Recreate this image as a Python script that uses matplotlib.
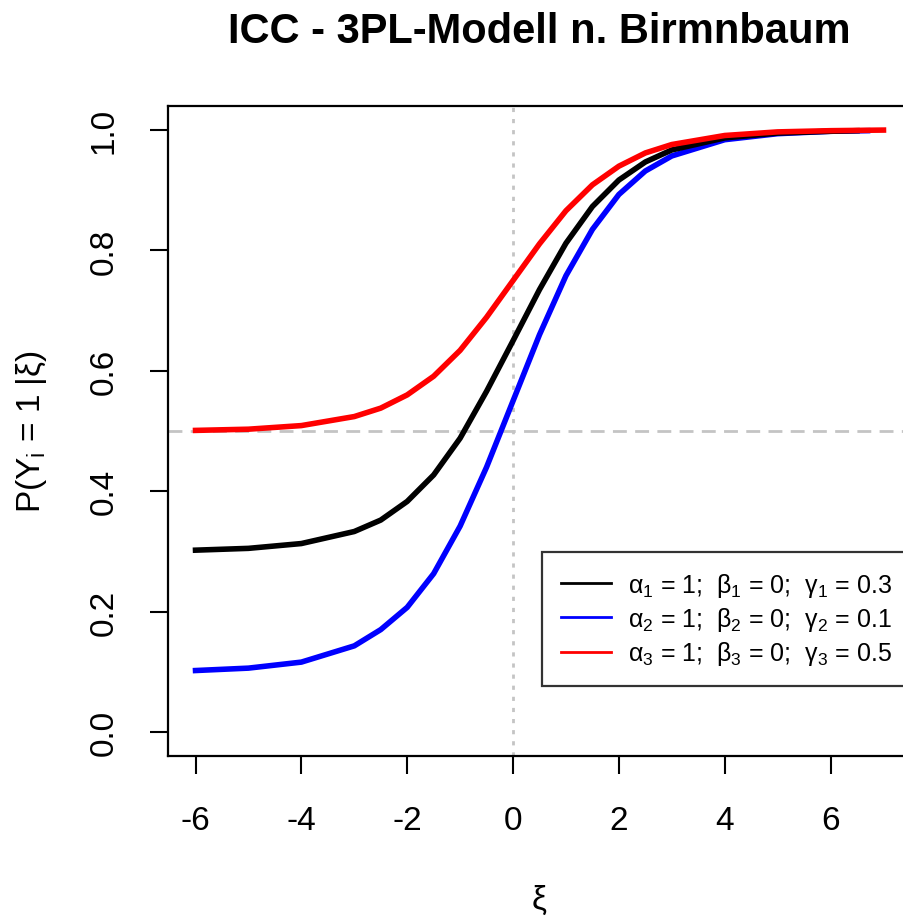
import matplotlib
matplotlib.use("Agg")
import matplotlib.pyplot as plt

# values
xi_black = [-6, -5, -4, -3, -2.5, -2, -1.5, -1, -0.5, 0, 0.5, 1, 1.5, 2, 2.5, 3, 4, 5, 6, 6.5]
p_black = [0.302, 0.305, 0.313, 0.333, 0.352, 0.383, 0.427, 0.488, 0.566, 0.650, 0.735, 0.812,
           0.873, 0.917, 0.947, 0.967, 0.987, 0.995, 0.998, 0.999]

xi_blue = [-6, -5, -4, -3, -2.5, -2, -1.5, -1, -0.5, 0, 0.5, 1, 1.5, 2, 2.5, 3, 4, 5, 6, 6.7]
p_blue = [0.102, 0.106, 0.116, 0.143, 0.170, 0.207, 0.263, 0.342, 0.440, 0.550, 0.660, 0.758,
          0.835, 0.893, 0.932, 0.957, 0.984, 0.994, 0.998, 0.999]

xi_red = [-6, -5, -4, -3, -2.5, -2, -1.5, -1, -0.5, 0, 0.5, 1, 1.5, 2, 2.5, 3, 4, 5, 6, 7]
p_red = [0.501, 0.503, 0.509, 0.524, 0.538, 0.560, 0.591, 0.634, 0.689, 0.750, 0.811, 0.866,
         0.909, 0.940, 0.962, 0.976, 0.991, 0.997, 0.999, 1.000]

labels = [
    "α$_1$ = 1;  β$_1$ = 0;  γ$_1$ = 0.3",
    "α$_2$ = 1;  β$_2$ = 0;  γ$_2$ = 0.1",
    "α$_3$ = 1;  β$_3$ = 0;  γ$_3$ = 0.5",
]
colors = ["black", "blue", "red"]
x_ticks = [-6, -4, -2, 0, 2, 4, 6]
y_ticks = [0.0, 0.2, 0.4, 0.6, 0.8, 1.0]

plt.rcParams["font.family"] = ["Liberation Sans", "DejaVu Sans"]
plt.rcParams["mathtext.fontset"] = "custom"
plt.rcParams["mathtext.rm"] = "Liberation Sans"
plt.rcParams["mathtext.it"] = "Liberation Sans"

fig = plt.figure(figsize=(9.04, 9.2), dpi=100)
ax = fig.add_axes([168 / 904, 1 - 757 / 920, (911 - 168) / 904, (757 - 107) / 920])

ax.axvline(0, color="#c4c4c4", lw=2, linestyle=(0, (1.5, 2.5)), zorder=1)
ax.axhline(0.5, color="#c4c4c4", lw=2, linestyle=(0, (5, 3)), zorder=1)

ax.plot(xi_black, p_black, color=colors[0], lw=4, label=labels[0], zorder=3)
ax.plot(xi_blue, p_blue, color=colors[1], lw=4, label=labels[1], zorder=2)
ax.plot(xi_red, p_red, color=colors[2], lw=4, label=labels[2], zorder=4)

ax.set_xlim(-6.52, 7.52)
ax.set_ylim(-0.04, 1.04)
ax.set_xticks(x_ticks)
ax.set_xticklabels([str(t) for t in x_ticks])
ax.set_yticks(y_ticks)
ax.set_yticklabels(["%.1f" % t for t in y_ticks], rotation=90, va="center")
ax.tick_params(direction="out", length=13, width=1.5, labelsize=24, pad=22)
for s in ax.spines.values():
    s.set_linewidth(1.6)

leg = ax.legend(loc="upper left", bbox_to_anchor=(542 / 904, 1 - 553 / 920),
                bbox_transform=fig.transFigure, borderaxespad=0, fontsize=18,
                frameon=True, fancybox=False, handlelength=2.0, handletextpad=0.7,
                borderpad=0.75, labelspacing=0.25)
leg.get_frame().set_edgecolor("black")
leg.get_frame().set_linewidth(1.6)
for ln in leg.get_lines():
    ln.set_linewidth(2)

fig.text(539.5 / 904, 1 - 32 / 920, "ICC - 3PL-Modell n. Birmnbaum", ha="center", va="center",
         fontsize=30, fontweight="bold")
fig.text(539.5 / 904, 1 - 900 / 920, "ξ", ha="center", va="center", fontsize=24)
fig.text(32 / 904, 1 - 432 / 920, "P(Y$_i$ = 1 |ξ)", ha="center", va="center",
         rotation=90, fontsize=24)

fig.savefig("out.png", dpi=100)
